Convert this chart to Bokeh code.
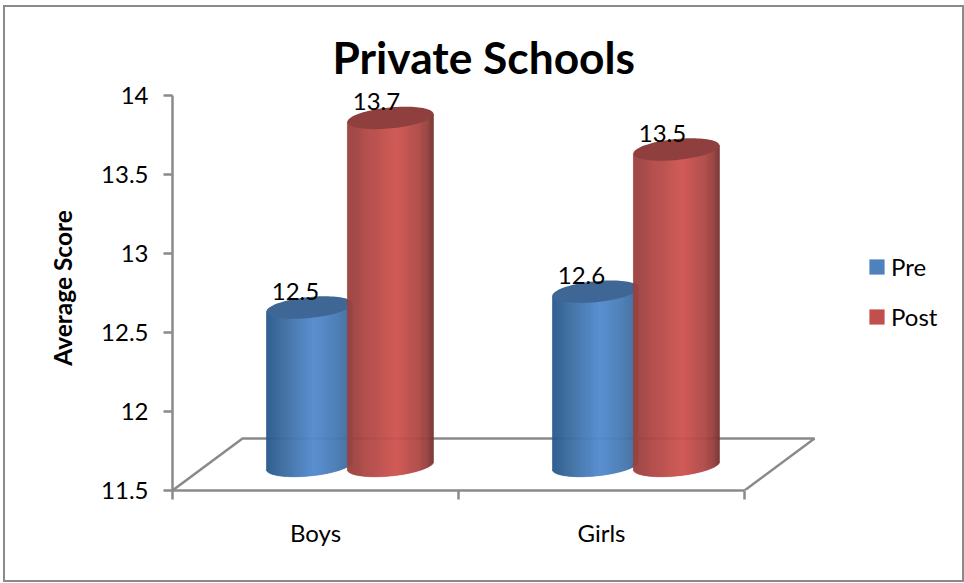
import numpy as np
from bokeh.core.properties import value
from bokeh.embed import file_html
from bokeh.models import (ColumnDataSource, FixedTicker, Legend, LegendItem, Range1d, Title)
from bokeh.plotting import figure
from bokeh.resources import INLINE

# Chart data
categories = ["Boys", "Girls"]
pre_scores = [12.5, 12.6]
post_scores = [13.7, 13.5]
series_names = ["Pre", "Post"]
score_ticks = [11.5, 12, 12.5, 13, 13.5, 14]
score_tick_labels = ["11.5", "12", "12.5", "13", "13.5", "14"]

# Colours
GREY = "#8a8a8a"
PRE_KEY, POST_KEY = "#4f81bd", "#c0504d"
PRE_TOP, POST_TOP = "#3e6795", "#8f3f3d"
PRE_RAMP = [(-1.0, "#2c5a8c"), (-0.55, "#3f6fa5"), (0.1, "#558cd0"), (0.6, "#4a7db8"), (1.0, "#3f6a9c")]
POST_RAMP = [(-1.0, "#98403e"), (-0.5, "#b24b48"), (0.15, "#cf5551"), (0.65, "#b04a47"), (0.88, "#94403d"), (1.0, "#743230")]

# Fake-3D geometry: score units vertically, category widths horizontally
FONT = "Lato"
PX_X, PX_Y = 286.0, 158.0         # pixels per x unit / per score unit
BASE = 11.5
DEPTH = 25 / PX_Y                 # cylinders stand this far back on the floor
CAP_B = 10.5 / PX_Y               # half-height of an end ellipse
CAP_TILT = 4 / PX_Y               # rise of an end ellipse from centre to right rim
RADIUS = 43 / PX_X
PRE_CENTRE, POST_CENTRE = 0.479, 0.762
FLOOR_DX, FLOOR_DY = 70 / PX_X, 52 / PX_Y
FRAME_W, FRAME_H = 790, 405


def hex_rgb(c):
    return np.array([int(c[i:i + 2], 16) for i in (1, 3, 5)], dtype=float)


def shade(ramp, u):
    stops = [s for s, _ in ramp]
    rgb = np.array([hex_rgb(c) for _, c in ramp])
    vals = [int(round(np.interp(u, stops, rgb[:, k]))) for k in range(3)]
    return "#%02x%02x%02x" % tuple(vals)


p = figure(
    width=957, height=573, frame_width=FRAME_W, frame_height=FRAME_H,
    min_border_left=167, min_border_right=0, min_border_top=78, min_border_bottom=90,
    x_range=Range1d(0, FRAME_W / PX_X), y_range=Range1d(BASE, BASE + FRAME_H / PX_Y),
    output_backend="svg", toolbar_location=None, background_fill_color="white",
    border_fill_color="white", outline_line_color=None,
    margin=(7, 2, 3, 5),
    styles={"outline": f"2px solid {GREY}"},
)
p.grid.visible = False

p.title = Title(text="Private Schools", text_font=FONT, text_font_size="44.3px", text_font_style="bold",
                text_color="black", align="left", offset=160, standoff=6)

# Score axis
ya = p.yaxis[0]
ya.ticker = FixedTicker(ticks=score_ticks)
ya.major_label_overrides = dict(zip(score_ticks, score_tick_labels))
ya.bounds = (BASE, 14)
ya.axis_line_color = GREY
ya.axis_line_width = 2.5
ya.major_tick_line_color = GREY
ya.major_tick_line_width = 2.5
ya.major_tick_in = 0
ya.major_tick_out = 9
ya.minor_tick_line_color = None
ya.major_label_text_font = FONT
ya.major_label_text_font_size = "24px"
ya.major_label_text_color = "black"
ya.major_label_standoff = 15
ya.axis_label = "Average Score"
ya.axis_label_text_font = FONT
ya.axis_label_text_font_size = "24.5px"
ya.axis_label_text_font_style = "bold"
ya.axis_label_text_color = "black"
ya.axis_label_standoff = 21

# Category axis: labels sit between the tick marks, so the marks are minor ticks
xa = p.xaxis[0]
xa.ticker = FixedTicker(ticks=[0.5, 1.5], minor_ticks=[0, 1, 2])
xa.major_label_overrides = {0.5: categories[0], 1.5: categories[1]}
xa.bounds = (0, 2)
xa.axis_line_color = GREY
xa.axis_line_width = 2.5
xa.major_tick_line_color = None
xa.minor_tick_line_color = GREY
xa.minor_tick_line_width = 2.5
xa.minor_tick_in = 0
xa.minor_tick_out = 9
xa.major_label_text_font = FONT
xa.major_label_text_font_size = "24px"
xa.major_label_text_color = "black"
xa.major_label_standoff = 18

# Floor outline
p.line([0, FLOOR_DX, 2 + FLOOR_DX, 2],
       [BASE, BASE + FLOOR_DY, BASE + FLOOR_DY, BASE],
       line_color=GREY, line_width=2.5)


def cylinder(cx, score, ramp, cap_colour):
    """Draw one shaded cylinder as one-pixel strips with a tilted elliptical cap."""
    top_c = score + DEPTH
    base_c = BASE + DEPTH
    n = int(round(2 * RADIUS * PX_X))
    edges = np.linspace(-1, 1, n + 1)
    mids = (edges[:-1] + edges[1:]) / 2
    src = ColumnDataSource(dict(
        left=cx + edges[:-1] * RADIUS,
        right=cx + edges[1:] * RADIUS,
        top=top_c + mids * CAP_TILT,
        bottom=base_c + mids * CAP_TILT - CAP_B * np.sqrt(1 - mids ** 2),
        color=[shade(ramp, u) for u in mids],
    ))
    p.quad(left="left", right="right", top="top", bottom="bottom", fill_color="color",
           line_color="color", line_width=0.6, source=src)
    t = np.linspace(0, 2 * np.pi, 90)
    p.patch(cx + RADIUS * np.cos(t),
            top_c + CAP_TILT * np.cos(t) + CAP_B * np.sin(t),
            fill_color=cap_colour, line_color=None)


for i in range(len(categories)):
    cylinder(i + PRE_CENTRE, pre_scores[i], PRE_RAMP, PRE_TOP)
    cylinder(i + POST_CENTRE, post_scores[i], POST_RAMP, POST_TOP)

# Value labels, placed just above each cap
label_x, label_y, label_text = [], [], []
for i in range(len(categories)):
    for centre, score in ((PRE_CENTRE, pre_scores[i]), (POST_CENTRE, post_scores[i])):
        label_x.append(i + centre)
        label_y.append(score + DEPTH)
        label_text.append(f"{score:.1f}")
p.text(label_x, label_y, text=label_text, text_font=value(FONT), text_font_size="24px",
       text_color="black", text_align="center", text_baseline="middle",
       x_offset=-14, y_offset=-16)

# Legend keys: rows without a position, so only the key swatch is drawn
nan = float("nan")
pre_key = p.quad(left=[nan], right=[nan], top=[nan], bottom=[nan], fill_color=PRE_KEY, line_color=None)
post_key = p.quad(left=[nan], right=[nan], top=[nan], bottom=[nan], fill_color=POST_KEY, line_color=None)
legend = Legend(
    items=[LegendItem(label=series_names[0], renderers=[pre_key]),
           LegendItem(label=series_names[1], renderers=[post_key])],
    location=(695, 159), orientation="vertical", border_line_color=None,
    background_fill_alpha=0, glyph_width=19, glyph_height=19, label_height=26,
    label_text_font=FONT, label_text_font_size="24px", label_text_color="black",
    label_standoff=5, spacing=21, padding=0, margin=0,
)
p.add_layout(legend, "center")

open("out.html", "w").write(file_html(p, INLINE))
